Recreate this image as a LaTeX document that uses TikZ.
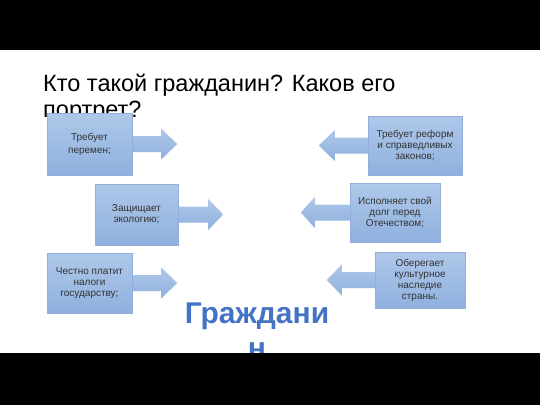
\documentclass[tikz,border=0pt]{standalone}
\usepackage{fontspec}
\setmainfont{Liberation Sans}
\usetikzlibrary{calc,backgrounds}
\definecolor{boxtop}{HTML}{AFC8EA}
\definecolor{boxbot}{HTML}{8FB0DE}
\definecolor{boxedge}{HTML}{93AEDA}
\definecolor{txtblue}{HTML}{4472C4}
\definecolor{boxtxt}{HTML}{333333}
\tikzset{
  infobox/.style={rectangle, draw=boxedge, line width=0.4pt, top color=boxtop, bottom color=boxbot,
    inner sep=0pt, align=center, text=boxtxt, font=\fontsize{10}{11}\selectfont},
  arrowshape/.style={top color=boxtop, bottom color=boxbot, draw=none},
}
\newcommand\blkarrow[4]{%
  \path[arrowshape] ($(#1)+({#2*(-1)},-8)$) -- ($(#1)+({#2*#3},-8)$) -- ($(#1)+({#2*#3},-15.5)$)
    -- ($(#1)+({#2*#4},0)$) -- ($(#1)+({#2*#3},15.5)$) -- ($(#1)+({#2*#3},8)$)
    -- ($(#1)+({#2*(-1)},8)$) -- cycle;}
\begin{document}
\begin{tikzpicture}[x=1pt,y=-1pt]
\useasboundingbox (0,0) rectangle (540,405);
% title
\node[anchor=base west, inner sep=0pt, align=left, font=\fontsize{23.5}{26.5}\selectfont] (title) at (43,117.5)
  {Кто такой гражданин? Каков его\\портрет?};
% boxes
\node[infobox, minimum width=85pt, minimum height=62pt] (b1) at (89.5,144) {Требует\\[2pt]перемен;};
\node[infobox, minimum width=83pt, minimum height=61pt] (b2) at (136.5,214.5) {Защищает\\экологию;};
\node[infobox, minimum width=85pt, minimum height=60pt] (b3) at (89.5,283) {Честно платит\\налоги\\государству;};
\node[infobox, minimum width=94pt, minimum height=59pt] (r1) at (415,145.5) {Требует реформ\\и справедливых\\законов;};
\node[infobox, minimum width=90pt, minimum height=59pt] (r2) at (395,212.5) {Исполняет свой\\долг перед\\Отечеством;};
\node[infobox, minimum width=90pt, minimum height=56pt] (r3) at (420,280) {Оберегает\\культурное\\наследие\\страны.};
% centre word
\node[anchor=base, inner sep=0pt, align=center, text=txtblue, font=\bfseries\fontsize{30}{35.5}\selectfont] (citizen) at (257,358.5)
  {Граждани\\н};
\begin{scope}[on background layer]
  \fill[black] (0,0) rectangle (540,50);
  \fill[white] (0,50) rectangle (540,353);
  \blkarrow{b1.east}{1}{29}{45}
  \blkarrow{b2.east}{1}{30}{45}
  \blkarrow{b3.east}{1}{29}{45}
  \blkarrow{r1.west}{-1}{33}{49}
  \blkarrow{r2.west}{-1}{35}{49}
  \blkarrow{r3.west}{-1}{33}{48}
\end{scope}
\fill[black] (0,353) rectangle (540,405);
\end{tikzpicture}
\end{document}
